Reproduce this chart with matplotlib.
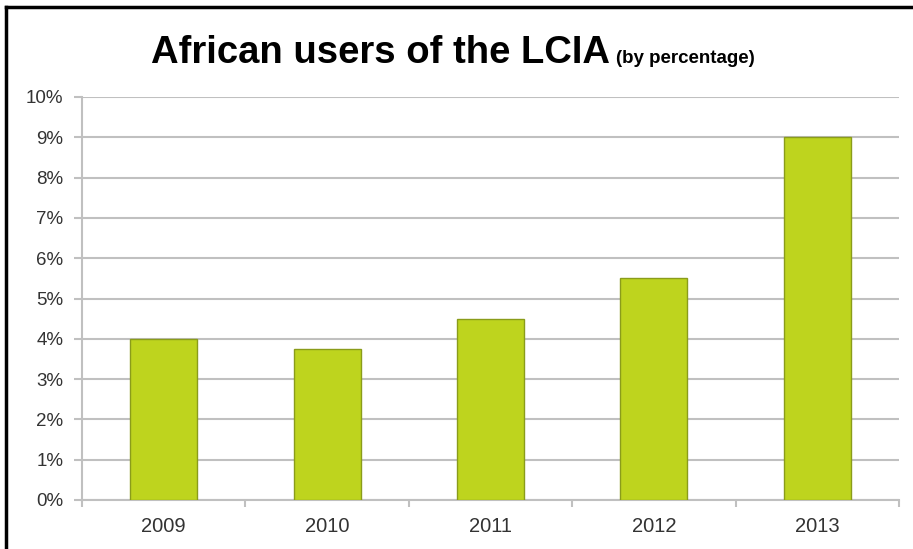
import matplotlib.pyplot as plt
from matplotlib.lines import Line2D
from matplotlib.ticker import FixedLocator, PercentFormatter

years = ["2009", "2010", "2011", "2012", "2013"]
share = [4.0, 3.75, 4.5, 5.5, 9.0]  # percent

bar_color = "#bed41e"
edge_color = "#8a9c1a"
grid_color = "#c0c0c0"
text_color = "#333333"

plt.rcParams["font.family"] = ["Liberation Sans", "DejaVu Sans"]

fig = plt.figure(figsize=(9.13, 5.49), dpi=100)
ax = fig.add_axes([82 / 913, 49 / 549, 817 / 913, 403 / 549])

x = range(len(years))
ax.bar(x, share, width=0.41, color=bar_color, edgecolor=edge_color, linewidth=1.0, zorder=3)

ax.set_xlim(-0.5, len(years) - 0.5)
ax.set_ylim(0, 10)
ax.set_yticks(range(0, 11))
ax.yaxis.set_major_formatter(PercentFormatter(decimals=0))
ax.set_xticks(list(x))
ax.set_xticklabels(years)
ax.xaxis.set_minor_locator(FixedLocator([i - 0.5 for i in range(len(years) + 1)]))

ax.grid(axis="y", color=grid_color, linewidth=1.5, zorder=0)
for side in ["top", "right"]:
    ax.spines[side].set_visible(False)
for side in ["left", "bottom"]:
    ax.spines[side].set_color(grid_color)
    ax.spines[side].set_linewidth(1.5)

ax.tick_params(axis="y", length=5.5, width=1.5, color=grid_color, labelsize=13.5,
               labelcolor=text_color, pad=8)
ax.tick_params(axis="x", which="major", length=0, labelsize=14.5, labelcolor=text_color, pad=12)
ax.tick_params(axis="x", which="minor", length=5, width=1.5, color=grid_color)

# title: big bold part plus smaller bracket note on the same baseline
t1 = fig.text(151 / 913, 1 - 63 / 549, "African users of the LCIA",
              fontsize=27.5, fontweight="bold", color="black", ha="left", va="baseline")
fig.canvas.draw()
bb = t1.get_window_extent()
fig.text((bb.x1 + 6) / 913, 1 - 63 / 549, "(by percentage)",
         fontsize=13.5, fontweight="bold", color="black", ha="left", va="baseline")

# frame lines of the original slide
fig.add_artist(Line2D([6 / 913, 6 / 913], [0, 1 - 7 / 549], transform=fig.transFigure,
                      color="black", linewidth=2.5))
fig.add_artist(Line2D([6 / 913, 1], [1 - 7 / 549, 1 - 7 / 549], transform=fig.transFigure,
                      color="black", linewidth=2.5))

fig.savefig("out.png", dpi=100)
